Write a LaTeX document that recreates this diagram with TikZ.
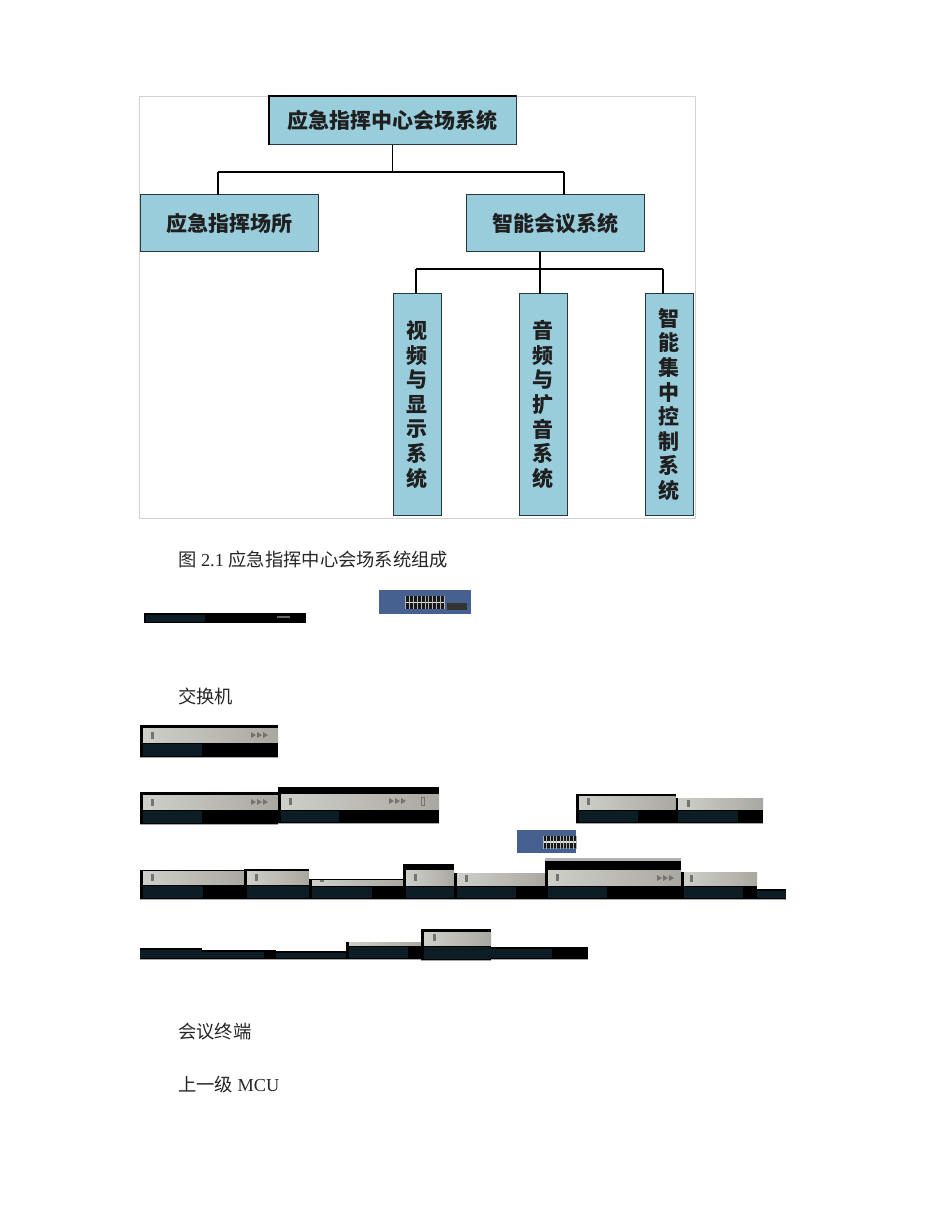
\documentclass[tikz,border=0pt]{standalone}
\usepackage{fontspec}
\setmainfont{Liberation Serif}
\newfontfamily\cjk{Noto Sans CJK SC}
\definecolor{boxblue}{HTML}{99CDDC}
\definecolor{boxline}{HTML}{26383E}
\definecolor{frameg}{HTML}{D2D2D2}
\definecolor{devteal}{HTML}{0D1D26}
\definecolor{swblue}{HTML}{46608F}
\definecolor{bandl}{HTML}{CFCFCA}
\definecolor{bandr}{HTML}{A9A8A0}
\tikzset{
  orgbox/.style={draw=boxline,line width=1pt,fill=boxblue,inner sep=0pt,outer sep=0pt,anchor=north west,
    font=\cjk\bfseries\fontsize{21}{24.6}\selectfont,text=black!88,align=center},
  wirethin/.style={draw=black,line width=1.8pt},
  wirethick/.style={draw=black,line width=2.6pt},
  caption/.style={anchor=west,inner sep=0pt,font=\fontsize{18.3}{22}\selectfont,text=black!85},
}
% left, top, right, bottom, band left, band top, band bottom, teal end
\newcommand{\devbox}[8]{%
  \fill[black] (#1,#2) rectangle (#3,#4);
  \draw[black!35,line width=0.5pt] (#1,#4) -- (#3,#4);
  \fill[devteal] (#5,#7+1.5) rectangle (#8,#4-0.8);
  \shade[left color=bandl,right color=bandr] (#5,#6) rectangle (#3,#7);
}
\newcommand{\devicon}[2]{\fill[black!55] (#1,#2) rectangle ++(3,7);}
\newcommand{\devarrows}[2]{%
  \foreach \k in {0,6,12}{\fill[black!55] (#1+\k,#2) -- ++(5,3) -- ++(-5,3) -- cycle;}}
% left, top, right, bottom, port left, port right
\newcommand{\swbox}[6]{%
  \fill[swblue] (#1,#2) rectangle (#3,#4);
  \fill[black!90] (#5,#2+0.26*#4-0.26*#2) rectangle (#6,#2+0.80*#4-0.80*#2);
  \fill[white!90!black] (#5,#2+0.48*#4-0.48*#2) rectangle (#6,#2+0.56*#4-0.56*#2);
  \foreach \t in {0,0.1,...,1.01}{\fill[white!70!black] (#5+\t*#6-\t*#5,#2+0.26*#4-0.26*#2) rectangle ++(0.7,13);}
}
\begin{document}
\begin{tikzpicture}[x=1pt,y=-1pt]
\useasboundingbox (0,0) rectangle (950,1230);
\fill[white] (0,0) rectangle (950,1230);
% frame
\draw[frameg,line width=0.9pt] (139.5,96) rectangle (695,518);
% boxes
\node[orgbox,minimum width=247pt,minimum height=49pt] (top) at (269,96) {\raisebox{2pt}{应急指挥中心会场系统}};
\node[orgbox,minimum width=178pt,minimum height=57pt] (place) at (140,195) {\raisebox{2pt}{应急指挥场所}};
\node[orgbox,minimum width=178pt,minimum height=57pt] (meet) at (466,195) {\raisebox{2pt}{智能会议系统}};
\node[orgbox,minimum width=48pt,minimum height=221pt] (video) at (393,294) {视\\频\\与\\显\\示\\系\\统};
\node[orgbox,minimum width=48pt,minimum height=221pt] (audio) at (519,294) {音\\频\\与\\扩\\音\\系\\统};
\node[orgbox,minimum width=48pt,minimum height=221pt] (ctrl) at (645,294) {智\\能\\集\\中\\控\\制\\系\\统};
\draw[black,line width=1.6pt] (269,145) -- (269,96) -- (516,96);
% connectors
\coordinate (busA) at (392.5,172);
\coordinate (busAl) at (218,172);
\coordinate (busAr) at (564,172);
\coordinate (busB) at (540,269);
\coordinate (busBl) at (416,269);
\coordinate (busBr) at (663,269);
\draw[wirethin] (top.south) -- (busA);
\draw[wirethin] (busAl) -- (busAr);
\draw[wirethin] (busAl) -- (busAl |- place.north);
\draw[wirethick] (busAr) -- (busAr |- meet.north);
\draw[wirethin] (busB |- meet.south) -- (busB |- audio.north);
\draw[wirethick] (busBl) -- (busBr);
\draw[wirethick] (busBl) -- (busBl |- video.north);
\draw[wirethin] (busBr) -- (busBr |- ctrl.north);
% captions
\node[caption] (cap1) at (178,560) {{\cjk 图} 2.1 {\cjk 应急指挥中心会场系统组成}};
\node[caption] (cap2) at (178,696) {\cjk 交换机};
\node[caption] (cap3) at (178,1032) {\cjk 会议终端};
\node[caption] (cap4) at (178,1085) {{\cjk 上一级} MCU};
% strip and switch
\fill[black] (144,613) rectangle (306,623);
\fill[devteal] (146,615) rectangle (205,622);
\fill[black!60] (277,616) rectangle (290,618);
\swbox{379}{590}{471}{614}{405}{444}
\fill[black!80] (447,603) rectangle (467,610);
% devices row 1
\devbox{140}{725}{278}{757}{143}{728}{742}{202}
\devicon{151}{732}\devarrows{251}{732}
% row 2
\devbox{140}{792}{278}{824}{143}{795}{809}{202}
\devicon{151}{799}\devarrows{251}{799}
\devbox{278}{787}{439}{823}{281}{794}{809}{339}
\devicon{289}{798}\devarrows{389}{798}
\draw[black!55,line width=0.8pt] (421,797) rectangle (424,805);
\devbox{576}{794}{675.5}{823}{579}{796}{809}{638}
\devicon{587}{798}
\devbox{676}{798}{763}{823}{678}{798}{809}{738}
\devicon{687}{800}
\swbox{517}{830}{576}{853}{543}{576}
% row 3
\devbox{140}{870}{244}{899}{143}{871}{884}{203}
\devicon{151}{874}
\devbox{244}{869}{309}{899}{247}{871}{884}{309}
\devicon{255}{874}
\devbox{309}{879}{403}{899}{312}{880}{885}{372}
\fill[black!55] (320,880) rectangle (324,881.5);
\devbox{403}{864}{454}{899}{406}{870}{885}{454}
\devicon{414}{874}
\devbox{454}{873}{545}{899}{457}{873}{885}{516}
\devicon{465}{875}
\devbox{545}{860}{681}{899}{548}{870}{885}{607}
\fill[black!30] (545,858) rectangle (681,861);
\devicon{556}{874}\devarrows{657}{875}
\devbox{681}{872}{757}{899}{684}{872}{885}{743}
\devicon{690}{875}
\devbox{757}{889}{786}{899}{757}{889}{889}{786}
% row 4
\devbox{140}{948}{202}{959}{140}{948}{948}{202}
\devbox{202}{950}{276}{959}{202}{950}{950}{264}
\devbox{276}{951}{346}{959}{276}{951}{951}{346}
\devbox{346}{942}{421}{959}{349}{942}{945}{408}
\devbox{421}{929}{491}{960}{424}{932}{945}{491}
\devicon{433}{934}
\devbox{491}{947}{588}{959}{491}{947}{947}{552}
\end{tikzpicture}
\end{document}
